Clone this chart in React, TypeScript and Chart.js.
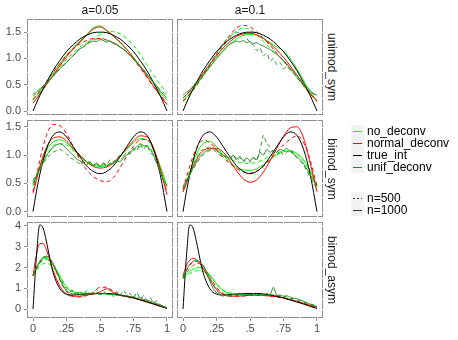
import React, { useEffect, useRef } from "react";
import { Chart, registerables } from "chart.js";
Chart.register(...registerables);

// ---------- categories / labels ----------
const COLUMNS = ["a=0.05", "a=0.1"];
const ROWS = ["unimod_sym", "bimod_sym", "bimod_asym"];
const METHODS = ["no_deconv", "normal_deconv", "true_int", "unif_deconv"];
const SAMPLE_SIZES = ["n=500", "n=1000"];
const X_TICKS = [0, 0.25, 0.5, 0.75, 1];
const X_TICK_LABELS = ["0", ".25", ".5", ".75", "1"];
const Y_TICKS = [[0, 0.5, 1, 1.5], [0, 0.5, 1, 1.5], [0, 1, 2, 3, 4]];
const Y_TICK_LABELS = [["0.0", "0.5", "1.0", "1.5"], ["0.0", "0.5", "1.0", "1.5"], ["0", "1", "2", "3", "4"]];
const Y_RANGE = [[-0.076, 1.75], [-0.095, 1.62], [-0.43, 4.19]];
const X_RANGE = [-0.045, 1.045];

// ---------- x grids ----------
const X_SMOOTH = [0, .025, .05, .075, .1, .125, .15, .2, .25, .3, .35, .4, .45, .5, .55, .6, .65, .7, .75, .8, .85, .9, .95, 1];
const X_FINE = [0, .025, .05, .075, .1, .125, .15, .175, .2, .225, .25, .275, .3, .325, .35, .375, .4, .425, .45, .475, .5, .525, .55, .575, .6, .625, .65, .675, .7, .725, .75, .775, .8, .825, .85, .875, .9, .925, .95, .975, 1];

// ---------- true_int ----------
const trueUnimod = [0, .15, .29, .42, .54, .66, .77, .96, 1.13, 1.26, 1.37, 1.44, 1.49, 1.5, 1.49, 1.44, 1.37, 1.26, 1.13, .96, .77, .54, .29, 0];
const trueBimodSym = [0, .35, .65, .9, 1.1, 1.25, 1.35, 1.41, 1.32, 1.15, .97, .81, .71, .67, .71, .81, .97, 1.15, 1.32, 1.41, 1.35, 1.1, .65, 0];
const trueBimodAsym = [0, 2.5, 4.05, 3.9, 3.25, 2.45, 1.75, .98, .72, .68, .7, .72, .74, .75, .75, .73, .68, .62, .54, .44, .34, .24, .13, .03];

// ---------- unimod_sym, a=0.05 ----------
const uniA1_no1000 = [.2, .28, .36, .45, .54, .63, .72, .9, 1.06, 1.2, 1.33, 1.45, 1.58, 1.62, 1.53, 1.42, 1.3, 1.17, 1.02, .86, .7, .52, .35, .2];
const uniA1_no500 = [.22, .28, .35, .43, .51, .59, .67, .83, .98, 1.1, 1.22, 1.3, 1.37, 1.45, 1.5, 1.51, 1.47, 1.38, 1.25, 1.08, .88, .68, .5, .35];
const uniA1_norm1000 = [.15, .23, .32, .41, .5, .59, .68, .86, 1.03, 1.18, 1.31, 1.44, 1.56, 1.6, 1.53, 1.43, 1.31, 1.17, 1.01, .84, .66, .47, .29, .12];
const uniA1_norm500 = [.22, .3, .38, .47, .56, .65, .74, .9, 1.06, 1.18, 1.28, 1.34, 1.38, 1.38, 1.35, 1.3, 1.22, 1.12, .98, .82, .64, .46, .3, .15];
const uniA1_unif1000 = [.32, .36, .42, .47, .53, .6, .66, .73, .8, .86, .92, .99, 1.05, 1.12, 1.18, 1.22, 1.27, 1.3, 1.33, 1.32, 1.36, 1.34, 1.31, 1.33, 1.28, 1.26, 1.21, 1.18, 1.12, 1.06, .99, .92, .85, .78, .7, .62, .54, .46, .38, .31, .25];
const uniA1_unif500 = [.28, .34, .4, .47, .52, .6, .66, .74, .8, .87, .93, .99, 1.06, 1.12, 1.19, 1.22, 1.28, 1.33, 1.35, 1.37, 1.35, 1.38, 1.34, 1.33, 1.3, 1.27, 1.22, 1.18, 1.12, 1.06, .99, .92, .85, .78, .7, .62, .55, .48, .4, .35, .3];

// ---------- unimod_sym, a=0.1 ----------
const uniA2_no1000 = [.2, .26, .33, .41, .5, .58, .67, .84, 1.0, 1.14, 1.27, 1.37, 1.44, 1.46, 1.44, 1.38, 1.3, 1.22, 1.14, 1.0, .8, .58, .36, .18];
const uniA2_no500 = [.18, .24, .31, .39, .48, .57, .66, .86, 1.05, 1.23, 1.4, 1.52, 1.58, 1.55, 1.45, 1.32, 1.2, 1.08, .95, .8, .64, .48, .33, .2];
const uniA2_norm1000 = [.25, .31, .38, .46, .55, .63, .72, .89, 1.05, 1.2, 1.32, 1.42, 1.47, 1.48, 1.45, 1.38, 1.28, 1.16, 1.02, .86, .68, .5, .33, .2];
const uniA2_norm500 = [.2, .25, .32, .4, .49, .58, .68, .88, 1.08, 1.27, 1.44, 1.58, 1.63, 1.6, 1.5, 1.38, 1.25, 1.1, .95, .8, .64, .48, .32, .18];
const uniA2_unif1000 = [.3, .36, .4, .47, .55, .6, .68, .76, .84, .92, 1.0, 1.08, 1.15, 1.22, 1.28, 1.3, 1.33, 1.31, 1.34, 1.3, 1.32, 1.28, 1.3, 1.26, 1.24, 1.2, 1.17, 1.12, 1.08, 1.02, .96, .9, .82, .75, .68, .6, .52, .45, .38, .33, .3];
const uniA2_unif500 = [.25, .3, .36, .44, .52, .6, .7, .8, .9, 1.0, 1.1, 1.2, 1.28, 1.36, 1.42, 1.46, 1.5, 1.48, 1.45, 1.38, 1.3, 1.25, 1.15, 1.2, 1.05, 1.1, .95, 1.0, .88, .92, .8, .85, .78, .72, .64, .56, .48, .42, .36, .32, .28];

// ---------- bimod_sym, a=0.05 ----------
const bsA1_no1000 = [.45, .62, .8, .95, 1.08, 1.17, 1.23, 1.27, 1.22, 1.1, .98, .88, .82, .8, .81, .87, .97, 1.1, 1.22, 1.29, 1.27, 1.1, .8, .45];
const bsA1_no500 = [.5, .64, .78, .9, 1.02, 1.1, 1.16, 1.2, 1.18, 1.08, .98, .9, .85, .82, .83, .86, .92, 1.0, 1.08, 1.15, 1.17, 1.05, .8, .45];
const bsA1_norm1000 = [.33, .55, .78, .98, 1.13, 1.24, 1.3, 1.32, 1.25, 1.12, 1.0, .88, .8, .77, .79, .86, .98, 1.12, 1.25, 1.34, 1.32, 1.12, .75, .3];
const bsA1_norm500 = [.35, .62, .9, 1.15, 1.35, 1.48, 1.54, 1.52, 1.38, 1.15, .92, .74, .62, .55, .53, .6, .78, .98, 1.15, 1.27, 1.28, 1.1, .75, .35];
const bsA1_unif1000 = [.5, .62, .75, .87, .98, 1.07, 1.14, 1.18, 1.2, 1.17, 1.12, 1.05, 1.0, .93, .9, .86, .82, .88, .8, .86, .79, .85, .8, .86, .84, .9, .88, .95, 1.0, 1.05, 1.1, 1.15, 1.2, 1.17, 1.15, 1.1, 1.0, .85, .7, .55, .45];
const bsA1_unif500 = [.55, .65, .75, .85, .93, 1.0, 1.05, 1.08, 1.1, 1.07, 1.02, .96, .92, .88, .85, .9, .83, .88, .82, .86, .8, .86, .83, .92, .88, .95, 1.0, .98, 1.05, 1.02, 1.12, 1.08, 1.2, 1.1, 1.18, 1.05, .98, .85, .7, .55, .45];

// ---------- bimod_sym, a=0.1 ----------
const bsA2_no1000 = [.35, .52, .7, .87, 1.02, 1.13, 1.2, 1.24, 1.15, 1.0, .87, .78, .74, .73, .76, .83, .92, 1.0, 1.06, 1.07, 1.03, .92, .72, .45];
const bsA2_no500 = [.4, .55, .7, .84, .96, 1.05, 1.1, 1.14, 1.1, 1.0, .93, .88, .86, .85, .87, .92, .98, 1.03, 1.07, 1.07, 1.02, .9, .7, .45];
const bsA2_norm1000 = [.35, .5, .66, .8, .92, 1.02, 1.08, 1.12, 1.12, 1.05, .9, .72, .58, .52, .56, .7, .9, 1.12, 1.33, 1.48, 1.5, 1.3, .85, .35];
const bsA2_norm500 = [.4, .6, .8, .98, 1.12, 1.22, 1.26, 1.22, 1.1, .96, .85, .76, .7, .68, .72, .8, .92, 1.05, 1.18, 1.28, 1.34, 1.22, .9, .45];
const bsA2_unif1000 = [.4, .52, .65, .78, .88, .97, 1.03, 1.08, 1.1, 1.12, 1.08, 1.03, 1.0, .97, .95, 1.0, .93, .98, .9, .95, .9, .96, .92, 1.05, 1.0, 1.1, 1.05, 1.08, 1.05, 1.1, 1.08, 1.12, 1.06, 1.02, .98, .92, .85, .75, .65, .55, .45];
const bsA2_unif500 = [.45, .55, .65, .75, .85, .93, 1.0, 1.05, 1.08, 1.1, 1.05, 1.0, .96, .98, .92, 1.0, .9, .95, .88, .92, .87, .95, .9, 1.1, 1.35, 1.2, 1.15, 1.05, 1.0, 1.08, 1.0, 1.05, 1.1, 1.02, .95, .9, .82, .72, .6, .5, .4];

// ---------- bimod_asym, a=0.05 ----------
const baA1_no1000 = [1.6, 1.95, 2.25, 2.42, 2.45, 2.35, 2.15, 1.6, 1.05, .82, .78, .76, .75, .74, .73, .7, .66, .6, .54, .46, .37, .27, .17, .07];
const baA1_no500 = [1.6, 1.85, 2.05, 2.18, 2.2, 2.15, 2.0, 1.55, 1.08, .85, .78, .75, .74, .73, .72, .7, .66, .61, .55, .47, .38, .28, .18, .08];
const baA1_norm1000 = [1.6, 2.6, 3.15, 3.15, 2.85, 2.35, 1.85, 1.1, .72, .62, .62, .68, .72, .82, .98, .8, .66, .6, .55, .45, .35, .25, .15, .05];
const baA1_norm500 = [1.6, 1.95, 2.25, 2.45, 2.5, 2.4, 2.15, 1.4, .85, .62, .58, .65, .8, 1.05, 1.05, .85, .68, .58, .52, .45, .36, .26, .16, .08];
const baA1_unif1000 = [1.65, 2.0, 2.3, 2.5, 2.55, 2.45, 2.2, 1.85, 1.45, 1.1, .88, .78, .72, .78, .7, .75, .68, .76, .72, .78, .7, .76, .73, .68, .74, .66, .7, .62, .66, .58, .6, .52, .55, .46, .44, .38, .32, .26, .2, .12, .05];
const baA1_unif500 = [1.6, 1.9, 2.2, 2.35, 2.4, 2.3, 2.1, 1.8, 1.5, 1.2, .95, .85, .9, .7, .85, .65, .9, .75, .8, .95, .7, .85, .75, .95, .6, .85, .65, .9, .7, .75, .55, .8, .5, .65, .4, .55, .3, .4, .2, .1, .05];

// ---------- bimod_asym, a=0.1 ----------
const baA2_no1000 = [1.5, 1.68, 1.82, 1.92, 1.98, 2.0, 1.95, 1.65, 1.2, .88, .75, .72, .72, .72, .72, .7, .66, .6, .54, .46, .37, .28, .18, .1];
const baA2_no500 = [1.45, 1.58, 1.7, 1.78, 1.84, 1.86, 1.82, 1.6, 1.22, .92, .78, .74, .73, .73, .72, .7, .66, .6, .54, .46, .37, .28, .18, .1];
const baA2_norm1000 = [1.6, 2.1, 2.35, 2.45, 2.38, 2.2, 1.95, 1.4, .95, .7, .62, .62, .64, .66, .67, .66, .63, .6, .54, .46, .37, .27, .17, .08];
const baA2_norm500 = [1.5, 1.85, 2.1, 2.25, 2.3, 2.22, 2.05, 1.55, 1.05, .75, .64, .62, .63, .65, .66, .65, .62, .58, .52, .45, .37, .27, .17, .08];
const baA2_unif1000 = [1.55, 1.9, 2.15, 2.3, 2.35, 2.28, 2.1, 1.75, 1.35, 1.0, .78, .7, .62, .72, .6, .7, .66, .72, .64, .7, .68, .74, .66, .7, .68, .75, .68, 1.05, .66, .68, .62, .64, .58, .52, .5, .44, .38, .3, .24, .2, .12];
const baA2_unif500 = [1.5, 1.75, 1.95, 2.1, 2.18, 2.2, 2.1, 1.8, 1.5, 1.2, .9, .75, .68, .72, .66, .7, .64, .7, .66, .72, .68, .7, .66, .72, .7, .66, .7, .68, .66, .64, .6, .58, .52, .5, .44, .4, .34, .28, .22, .16, .1];

const PANEL_DATA = [
  [
    { truth: trueUnimod, no500: uniA1_no500, no1000: uniA1_no1000, norm500: uniA1_norm500, norm1000: uniA1_norm1000, unif500: uniA1_unif500, unif1000: uniA1_unif1000 },
    { truth: trueUnimod, no500: uniA2_no500, no1000: uniA2_no1000, norm500: uniA2_norm500, norm1000: uniA2_norm1000, unif500: uniA2_unif500, unif1000: uniA2_unif1000 },
  ],
  [
    { truth: trueBimodSym, no500: bsA1_no500, no1000: bsA1_no1000, norm500: bsA1_norm500, norm1000: bsA1_norm1000, unif500: bsA1_unif500, unif1000: bsA1_unif1000 },
    { truth: trueBimodSym, no500: bsA2_no500, no1000: bsA2_no1000, norm500: bsA2_norm500, norm1000: bsA2_norm1000, unif500: bsA2_unif500, unif1000: bsA2_unif1000 },
  ],
  [
    { truth: trueBimodAsym, no500: baA1_no500, no1000: baA1_no1000, norm500: baA1_norm500, norm1000: baA1_norm1000, unif500: baA1_unif500, unif1000: baA1_unif1000 },
    { truth: trueBimodAsym, no500: baA2_no500, no1000: baA2_no1000, norm500: baA2_norm500, norm1000: baA2_norm1000, unif500: baA2_unif500, unif1000: baA2_unif1000 },
  ],
];

// ---------- styling ----------
const COLORS: Record<string, string> = {
  no_deconv: "#00FF00",
  normal_deconv: "#FF0000",
  true_int: "#000000",
  unif_deconv: "#228B22",
};
const FONT = "'Liberation Sans', Arial, Helvetica, sans-serif";
const AXIS_TEXT = "#4D4D4D";
const FRAME = "#8F8F8F";
const DASH = [4, 3];
const PANEL_LEFT = [27, 177];
const PANEL_W = 146;
const ROW_TOP = [19, 120, 222];
const ROW_H = [96, 97, 96];
const GRID_X = [0, .125, .25, .375, .5, .625, .75, .875, 1];
const GRID_Y = [
  [0, .25, .5, .75, 1, 1.25, 1.5],
  [0, .25, .5, .75, 1, 1.25, 1.5],
  [0, .5, 1, 1.5, 2, 2.5, 3, 3.5, 4],
];

function line(xs: number[], ys: number[], color: string, dashed: boolean, smooth: boolean) {
  return {
    data: xs.map((x, i) => ({ x, y: ys[i] })),
    borderColor: color,
    borderWidth: 1,
    borderDash: dashed ? DASH : [],
    pointRadius: 0,
    fill: false,
    tension: smooth ? 0.4 : 0.15,
    cubicInterpolationMode: smooth ? "monotone" : "default",
  };
}

function Panel({ row, col }: { row: number; col: number }) {
  const ref = useRef<HTMLCanvasElement>(null);
  const showY = col === 0;
  const showX = row === 2;
  const canvasLeft = PANEL_LEFT[col] - (showY ? 27 : 0);
  const canvasW = PANEL_W + (showY ? 27 : 0) + 2;
  const canvasTop = ROW_TOP[row] - 6;
  const canvasH = showX ? 340 - canvasTop : ROW_H[row] + 12;

  useEffect(() => {
    const d = PANEL_DATA[row][col];
    const ordered = [
      line(X_SMOOTH, d.no500, COLORS.no_deconv, true, true),
      line(X_SMOOTH, d.no1000, COLORS.no_deconv, false, true),
      line(X_SMOOTH, d.norm500, COLORS.normal_deconv, true, true),
      line(X_SMOOTH, d.norm1000, COLORS.normal_deconv, false, true),
      line(X_SMOOTH, d.truth, COLORS.true_int, false, true),
      line(X_FINE, d.unif500, COLORS.unif_deconv, true, false),
      line(X_FINE, d.unif1000, COLORS.unif_deconv, false, false),
    ];
    const datasets = ordered.reverse();

    const framePlugin = {
      id: "frame",
      beforeDatasetsDraw(chart: any) {
        const { ctx, chartArea } = chart;
        const { left, top, right, bottom } = chartArea;
        const xs = chart.scales.x;
        const ys = chart.scales.y;
        ctx.save();
        ctx.strokeStyle = FRAME;
        ctx.lineWidth = 1;
        ctx.strokeRect(left + 0.5, top + 0.5, right - left - 1, bottom - top - 1);
        ctx.strokeStyle = "#FFFFFF";
        GRID_X.forEach((g) => {
          const px = Math.round(xs.getPixelForValue(g)) + 0.5;
          ctx.beginPath();
          ctx.moveTo(px, top);
          ctx.lineTo(px, top + 1);
          ctx.moveTo(px, bottom - 1);
          ctx.lineTo(px, bottom);
          ctx.stroke();
        });
        GRID_Y[row].forEach((g) => {
          const py = Math.round(ys.getPixelForValue(g)) + 0.5;
          ctx.beginPath();
          ctx.moveTo(left, py);
          ctx.lineTo(left + 1, py);
          ctx.moveTo(right - 1, py);
          ctx.lineTo(right, py);
          ctx.stroke();
        });
        ctx.restore();
      },
    };

    const tickFont = { family: FONT, size: 11 };
    const chart = new Chart(ref.current as HTMLCanvasElement, {
      type: "line",
      data: { datasets: datasets as any },
      plugins: [framePlugin],
      options: {
        animation: false,
        responsive: false,
        devicePixelRatio: 1,
        layout: { padding: { top: 6, bottom: showX ? 0 : 6, left: 0, right: 2 } },
        plugins: { legend: { display: false }, tooltip: { enabled: false } },
        scales: {
          x: {
            type: "linear",
            min: X_RANGE[0],
            max: X_RANGE[1],
            display: showX,
            afterBuildTicks: (s: any) => {
              s.ticks = X_TICKS.map((v) => ({ value: v }));
            },
            afterFit: (s: any) => {
              s.height = showX ? 22 : 0;
              s.paddingLeft = 0;
              s.paddingRight = 0;
              s.paddingTop = 0;
              s.paddingBottom = 0;
            },
            ticks: {
              autoSkip: false,
              maxRotation: 0,
              padding: 1,
              color: AXIS_TEXT,
              font: tickFont,
              callback: (v: any) => X_TICK_LABELS[X_TICKS.indexOf(Number(v))],
            },
            grid: { drawOnChartArea: false, tickLength: 3, color: FRAME },
            border: { display: false },
          },
          y: {
            type: "linear",
            min: Y_RANGE[row][0],
            max: Y_RANGE[row][1],
            display: showY,
            afterBuildTicks: (s: any) => {
              s.ticks = Y_TICKS[row].map((v) => ({ value: v }));
            },
            afterFit: (s: any) => {
              s.width = showY ? 27 : 0;
              s.paddingLeft = 0;
              s.paddingRight = 0;
              s.paddingTop = 0;
              s.paddingBottom = 0;
            },
            ticks: {
              autoSkip: false,
              padding: 3,
              color: AXIS_TEXT,
              font: tickFont,
              callback: (v: any) => Y_TICK_LABELS[row][Y_TICKS[row].indexOf(Number(v))],
            },
            grid: { drawOnChartArea: false, tickLength: 3, color: FRAME },
            border: { display: false },
          },
        },
      } as any,
    });
    return () => chart.destroy();
  }, [row, col]);

  return (
    <canvas
      ref={ref}
      width={canvasW}
      height={canvasH}
      style={{ position: "absolute", left: canvasLeft, top: canvasTop, width: canvasW, height: canvasH }}
    />
  );
}

function KeyLine({ color, dashed }: { color: string; dashed: boolean }) {
  return (
    <div style={{ width: 13, height: 12, background: "#F2F2F2", position: "relative", flex: "none" }}>
      <div
        style={{
          position: "absolute",
          left: 2,
          width: 9,
          top: 6,
          height: 1,
          background: dashed
            ? `repeating-linear-gradient(to right, ${color} 0px, ${color} 2px, transparent 2px, transparent 4px)`
            : color,
        }}
      />
    </div>
  );
}

export default function App() {
  const rowCenter = (r: number) => ROW_TOP[r] + ROW_H[r] / 2;
  return (
    <div
      style={{
        position: "fixed",
        left: 0,
        top: 0,
        width: 458,
        height: 340,
        background: "#FFFFFF",
        fontFamily: FONT,
        overflow: "hidden",
      }}
    >
      {ROWS.map((_, r) => COLUMNS.map((__, c) => <Panel key={`${r}-${c}`} row={r} col={c} />))}
      {COLUMNS.map((label, c) => (
        <div
          key={label}
          style={{
            position: "absolute",
            left: PANEL_LEFT[c],
            width: PANEL_W,
            top: 3,
            textAlign: "center",
            fontSize: 12,
            lineHeight: "14px",
            color: "#1A1A1A",
          }}
        >
          {label}
        </div>
      ))}
      {ROWS.map((label, r) => (
        <div
          key={label}
          style={{
            position: "absolute",
            left: 332,
            top: rowCenter(r),
            transform: "translate(-50%, -50%) rotate(90deg)",
            fontSize: 12,
            lineHeight: "14px",
            color: "#1A1A1A",
            whiteSpace: "nowrap",
          }}
        >
          {label}
        </div>
      ))}
      <div style={{ position: "absolute", left: 351, top: 125 }}>
        {METHODS.map((m) => (
          <div key={m} style={{ display: "flex", alignItems: "center", height: 12 }}>
            <KeyLine color={COLORS[m]} dashed={false} />
            <span style={{ marginLeft: 3, fontSize: 12, lineHeight: "12px", color: "#000" }}>{m}</span>
          </div>
        ))}
      </div>
      <div style={{ position: "absolute", left: 351, top: 192 }}>
        {SAMPLE_SIZES.map((n, i) => (
          <div key={n} style={{ display: "flex", alignItems: "center", height: 12 }}>
            <KeyLine color="#333333" dashed={i === 0} />
            <span style={{ marginLeft: 3, fontSize: 12, lineHeight: "12px", color: "#000" }}>{n}</span>
          </div>
        ))}
      </div>
    </div>
  );
}
